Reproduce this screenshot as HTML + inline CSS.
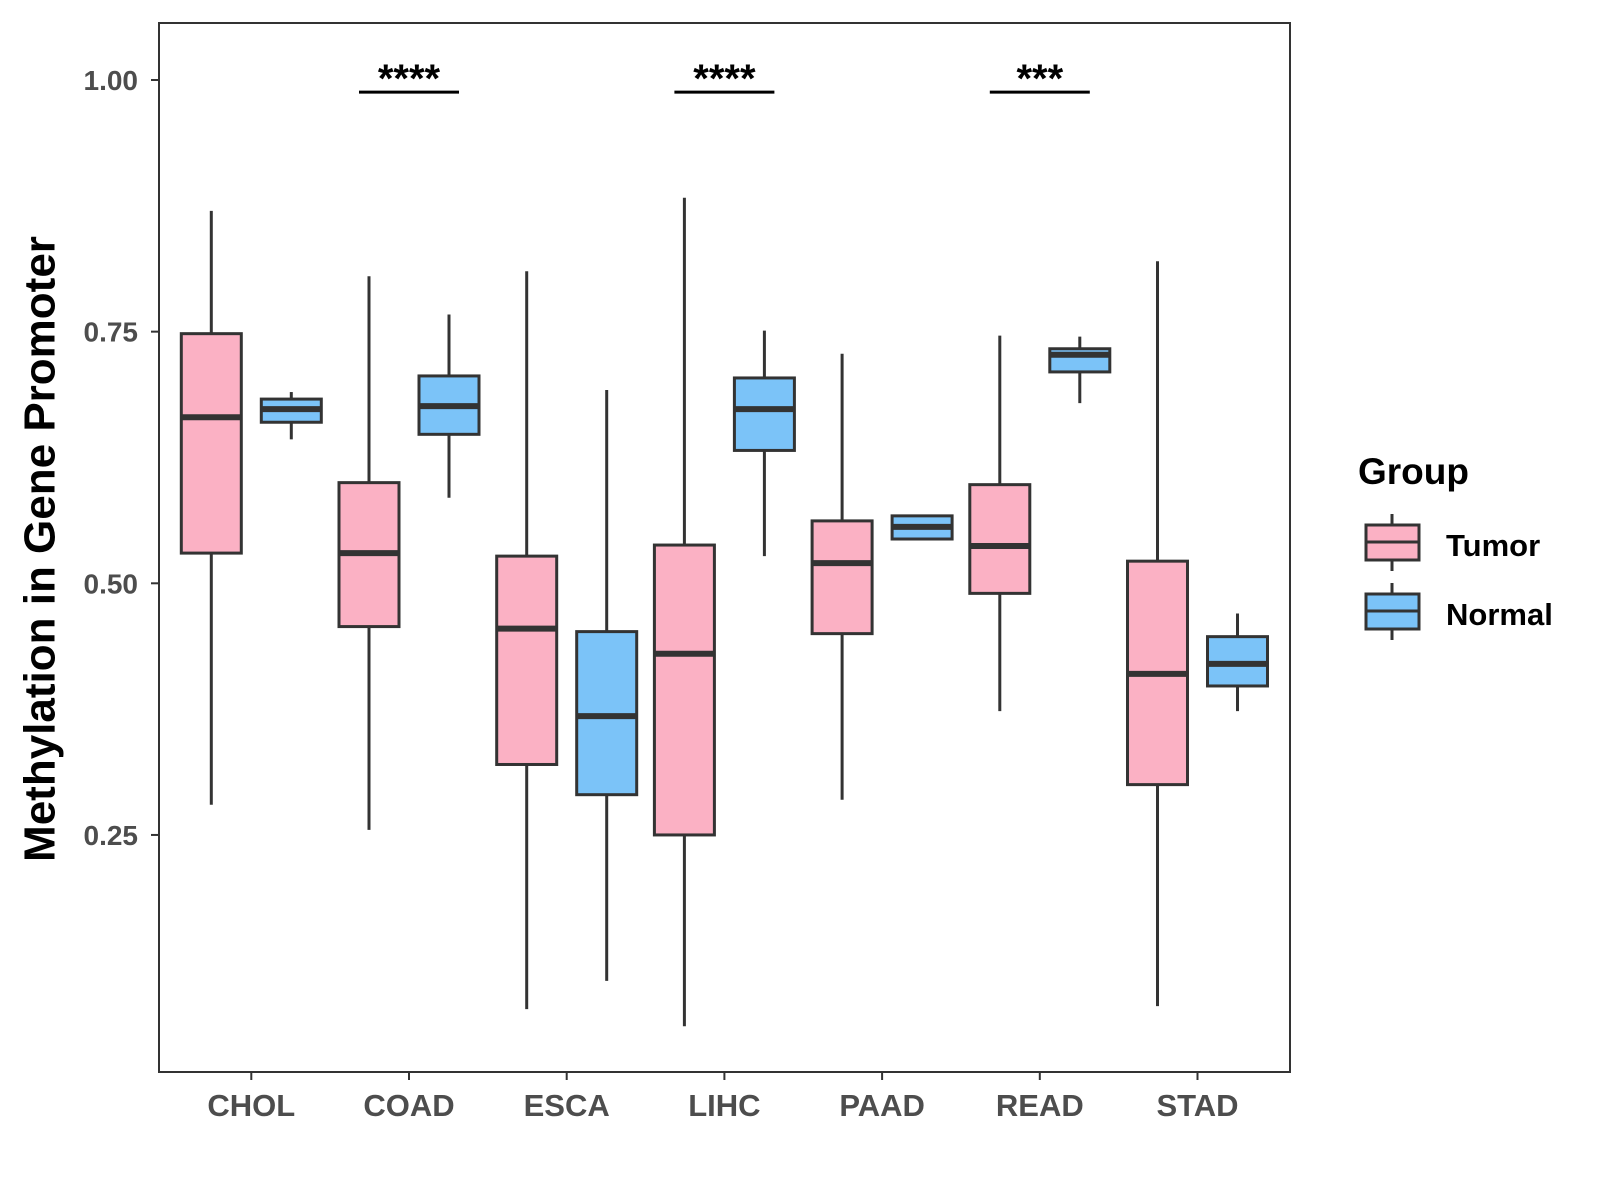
<!DOCTYPE html>
<html><head><meta charset="utf-8"><style>body{margin:0;background:#fff}svg{display:block}text{font-family:"Liberation Sans",Arial,sans-serif;font-weight:bold}</style></head>
<body>
<svg id="chart" width="1600" height="1200" xmlns="http://www.w3.org/2000/svg">
<rect x="159" y="23" width="1131" height="1049" fill="none" stroke="#333" stroke-width="2"/>
<g id="g"></g>
<text x="40" y="549" transform="rotate(-90 40 549)" text-anchor="middle" dominant-baseline="central" font-size="44" fill="#000">Methylation in Gene Promoter</text>
<g>
<text x="1358" y="484" font-size="37" fill="#000">Group</text>
<g>
<line x1="1392" y1="514" x2="1392" y2="571" stroke="#333" stroke-width="3"/>
<rect x="1366" y="525" width="53" height="35" fill="#FBB1C4" stroke="#333" stroke-width="3"/>
<line x1="1366" y1="542" x2="1419" y2="542" stroke="#333" stroke-width="3"/>
<text x="1446" y="556" font-size="31" fill="#000">Tumor</text></g>
<g>
<line x1="1392" y1="583" x2="1392" y2="640" stroke="#333" stroke-width="3"/>
<rect x="1366" y="594" width="53" height="35" fill="#7BC3F8" stroke="#333" stroke-width="3"/>
<line x1="1366" y1="611" x2="1419" y2="611" stroke="#333" stroke-width="3"/>
<text x="1446" y="625" font-size="31" fill="#000">Normal</text></g>
</g>
</svg>
<script>
const categories=["CHOL","COAD","ESCA","LIHC","PAAD","READ","STAD"];
const tumorLow=[0.28,0.255,0.077,0.06,0.285,0.373,0.08];
const tumorQ1=[0.53,0.457,0.32,0.25,0.45,0.49,0.30];
const tumorMed=[0.665,0.53,0.455,0.43,0.52,0.537,0.41];
const tumorQ3=[0.748,0.60,0.527,0.538,0.562,0.598,0.522];
const tumorHigh=[0.87,0.805,0.81,0.883,0.728,0.746,0.82];
const normalLow=[0.643,0.585,0.105,0.527,0.544,0.679,0.373];
const normalQ1=[0.66,0.648,0.29,0.632,0.544,0.71,0.398];
const normalMed=[0.673,0.676,0.368,0.673,0.556,0.727,0.42];
const normalQ3=[0.683,0.706,0.452,0.704,0.567,0.733,0.447];
const normalHigh=[0.69,0.767,0.692,0.751,0.567,0.745,0.47];
const yTicks=[0.25,0.5,0.75,1.0];
const yTickLabels=["0.25","0.50","0.75","1.00"];
const sigCats=["COAD","LIHC","READ"];
const sigLabels=["****","****","***"];
const sigLevel=0.988;
const NS="http://www.w3.org/2000/svg";
const g=document.getElementById('g');
const x=i=>251.3+i*157.7;
const y=v=>80+(1-v)*1006.6;
function mk(t,a){const e=document.createElementNS(NS,t);for(const k in a)e.setAttribute(k,a[k]);g.appendChild(e);return e;}
yTicks.forEach((v,i)=>{
 const t=mk('line',{x1:151,x2:159,y1:y(v),y2:y(v),stroke:'#333','stroke-width':2});
 
 
 const l=mk('text',{x:138,y:y(v)+10,'text-anchor':'end','font-size':28,fill:'#4d4d4d'});l.textContent=yTickLabels[i];
 
 
});
categories.forEach((c,i)=>{
 const t=mk('line',{x1:x(i),x2:x(i),y1:1072,y2:1080,stroke:'#333','stroke-width':2});
 
 
 const l=mk('text',{x:x(i),y:1116,'text-anchor':'middle','font-size':31,fill:'#4d4d4d'});l.textContent=c;
 
 
});
function box(cx,lo,q1,md,q3,hi,fill,name){
 const w=mk('line',{x1:cx,x2:cx,y1:y(hi),y2:y(lo),stroke:'#333','stroke-width':3});
 
 
 const r=mk('rect',{x:cx-30,width:60,y:y(q3),height:y(q1)-y(q3),fill:fill,stroke:'#333','stroke-width':3});
 
 
 const m=mk('line',{x1:cx-30,x2:cx+30,y1:y(md),y2:y(md),stroke:'#333','stroke-width':6});
 
 
}
categories.forEach((c,i)=>{
 box(x(i)-40,tumorLow[i],tumorQ1[i],tumorMed[i],tumorQ3[i],tumorHigh[i],'#FBB1C4','tumor-'+c.toLowerCase());
 box(x(i)+40,normalLow[i],normalQ1[i],normalMed[i],normalQ3[i],normalHigh[i],'#7BC3F8','normal-'+c.toLowerCase());
});
sigCats.forEach((c,k)=>{
 const i=categories.indexOf(c);
 const b=mk('line',{x1:x(i)-50,x2:x(i)+50,y1:y(sigLevel),y2:y(sigLevel),stroke:'#000','stroke-width':3});
 
 
 const t=mk('text',{x:x(i),y:y(sigLevel),'text-anchor':'middle','font-size':40,fill:'#000'});t.textContent=sigLabels[k];
 
 
});
</script>
</body></html>
